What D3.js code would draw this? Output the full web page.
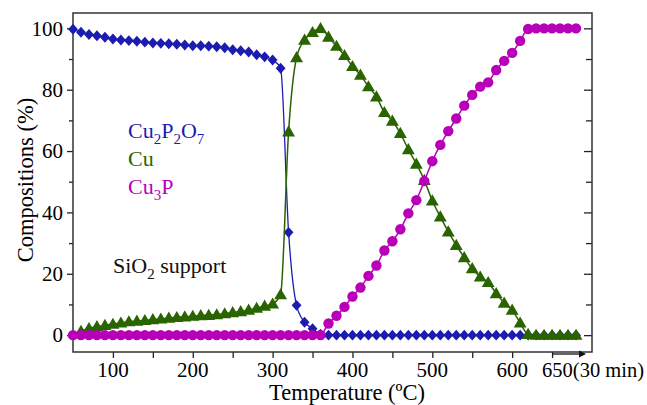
<!DOCTYPE html>
<html>
<head>
<meta charset="utf-8">
<script src="https://cdn.jsdelivr.net/npm/d3@7"></script>
<style>
  body { margin: 0; background: #fff; }
  svg text { font-family: "Liberation Serif", "Times New Roman", serif; }
</style>
</head>
<body>
<div id="chart"></div>
<script>
// temperature (degC), 620-680 is the 30 min hold at 650
var temps = [50, 60, 70, 80, 90, 100, 110, 120, 130, 140,
  150, 160, 170, 180, 190, 200, 210, 220, 230, 240,
  250, 260, 270, 280, 290, 300, 310, 320, 330, 340,
  350, 360, 370, 380, 390, 400, 410, 420, 430, 440,
  450, 460, 470, 480, 490, 500, 510, 520, 530, 540,
  550, 560, 570, 580, 590, 600, 610, 620, 630, 640,
  650, 660, 670, 680];

var cu2p2o7 = [99.7, 98.7, 98.0, 97.6, 97.1, 96.5, 96.2, 96.0, 95.8, 95.5,
  95.2, 95.1, 95.0, 94.8, 94.6, 94.3, 94.3, 94.2, 94.0, 93.7,
  93.0, 92.7, 92.3, 91.4, 90.7, 89.7, 87.0, 33.5, 9.7, 4.2,
  2.1, 0.3, 0, 0, 0, 0, 0, 0, 0, 0,
  0, 0, 0, 0, 0, 0, 0, 0, 0, 0,
  0, 0, 0, 0, 0, 0, 0, 0, 0, 0,
  0, 0, 0, 0];

var cu = [null, 1.3, 2.2, 2.8, 3.2, 3.6, 4.0, 4.4, 4.6, 4.8,
  5.1, 5.3, 5.6, 5.8, 6.0, 6.2, 6.4, 6.5, 6.7, 7.0,
  7.4, 7.7, 8.2, 8.8, 9.5, 10.2, 13.2, 66.3, 90.5, 96.2,
  98.7, 100, 97.2, 94.2, 91.2, 87.6, 84.8, 81.0, 77.7, 72.6,
  69.8, 65.8, 60.5, 55.8, 50.5, 43.8, 38.6, 33.7, 29.3, 25.3,
  21.7, 19.0, 17.2, 13.6, 10.5, 8.2, 4.0, 0.3, 0, 0,
  0, 0, 0, 0];

var cu3p = [0, 0, 0, 0, 0, 0, 0, 0, 0, 0,
  0, 0, 0, 0, 0, 0, 0, 0, 0, 0,
  0, 0, 0, 0, 0, 0, 0, 0, 0, 0,
  0, 0, 3.8, 6.3, 9.2, 12.6, 15.5, 19.3, 22.7, 27.6,
  30.6, 34.5, 39.7, 44.0, 50.2, 56.7, 62.0, 66.5, 70.6, 74.8,
  78.3, 81.0, 82.4, 86.4, 89.4, 92.0, 95.9, 99.8, 100, 100,
  100, 100, 100, 100];

var xTickLabels = [100, 200, 300, 400, 500, 600];
var xTicks = [100, 150, 200, 250, 300, 350, 400, 450, 500, 550, 600, 650];
var yTickLabels = [0, 20, 40, 60, 80, 100];
var yTicks = [0, 10, 20, 30, 40, 50, 60, 70, 80, 90, 100];

var width = 647, height = 405;
var mLeft = 73, mRight = 592, mTop = 13, mBottom = 352;

var svg = d3.select("#chart").append("svg")
  .attr("width", width)
  .attr("height", height);

svg.append("rect").attr("width", width).attr("height", height).attr("fill", "#fff");

var x = d3.scaleLinear().domain([50, 700]).range([mLeft, mRight]);
var y = d3.scaleLinear().domain([-5.5, 105]).range([mBottom, mTop]);

// axes
var xAxis = svg.append("g")
  .attr("transform", "translate(0," + mBottom + ")")
  .call(d3.axisBottom(x).tickValues(xTicks).tickSize(6).tickFormat(""));
xAxis.select(".domain").remove();
xAxis.selectAll("line").attr("stroke", "#222").attr("stroke-width", 1.3);

var yAxis = svg.append("g")
  .attr("transform", "translate(" + mLeft + ",0)")
  .call(d3.axisLeft(y).tickValues(yTicks).tickSize(6).tickFormat(""));
yAxis.select(".domain").remove();
yAxis.selectAll(".tick line")
  .attr("stroke", "#222").attr("stroke-width", 1.3)
  .attr("x2", function(d) { return d % 20 === 0 ? -6 : -4; });

var yRight = svg.append("g")
  .attr("transform", "translate(" + mRight + ",0)")
  .call(d3.axisLeft(y).tickValues(yTicks).tickSize(8).tickFormat(""));
yRight.select(".domain").remove();
yRight.selectAll(".tick line")
  .attr("stroke", "#222").attr("stroke-width", 1.3)
  .attr("x2", function(d) { return d % 20 === 0 ? -8 : -6; });

svg.append("rect")
  .attr("x", mLeft).attr("y", mTop)
  .attr("width", mRight - mLeft).attr("height", mBottom - mTop)
  .attr("fill", "none").attr("stroke", "#333").attr("stroke-width", 1.5);

svg.selectAll(".xlab").data(xTickLabels).enter().append("text")
  .attr("class", "xlab")
  .attr("x", function(d) { return x(d); })
  .attr("y", 377)
  .attr("text-anchor", "middle")
  .attr("font-size", 21)
  .text(function(d) { return d; });

svg.append("text")
  .attr("x", x(650) - 10).attr("y", 377)
  .attr("font-size", 20.5)
  .text("650(30 min)");

// hold arrow
svg.append("line")
  .attr("x1", x(650)).attr("x2", x(685))
  .attr("y1", mBottom + 2).attr("y2", mBottom + 2)
  .attr("stroke", "#111").attr("stroke-width", 1.3);
svg.append("path")
  .attr("d", "M" + (x(685) + 6) + "," + (mBottom + 2) + "l-7,-3.5l0,7z")
  .attr("fill", "#111");

svg.selectAll(".ylab").data(yTickLabels).enter().append("text")
  .attr("class", "ylab")
  .attr("x", 63)
  .attr("y", function(d) { return y(d); })
  .attr("dy", "0.35em")
  .attr("text-anchor", "end")
  .attr("font-size", 21)
  .text(function(d) { return d; });

svg.append("text")
  .attr("x", 347).attr("y", 400)
  .attr("text-anchor", "middle")
  .attr("font-size", 22.5)
  .text("Temperature (ºC)");

svg.append("text")
  .attr("transform", "translate(33,180) rotate(-90)")
  .attr("text-anchor", "middle")
  .attr("font-size", 22.5)
  .text("Compositions (%)");

// series
var series = [
  { name: "Cu2P2O7", values: cu2p2o7, color: "#1c1cb0", width: 1.3, shape: "diamond" },
  { name: "Cu", values: cu, color: "#2a6400", width: 1.5, shape: "triangle" },
  { name: "Cu3P", values: cu3p, color: "#b800b8", width: 1.5, shape: "circle" }
];

var line = d3.line()
  .defined(function(d) { return d[1] != null; })
  .x(function(d) { return x(d[0]); })
  .y(function(d) { return y(d[1]); })
  .curve(d3.curveMonotoneX);

var shapes = {
  diamond: d3.symbol().type(d3.symbolSquare).size(60)(),
  triangle: d3.symbol().type(d3.symbolTriangle).size(72)(),
  circle: d3.symbol().type(d3.symbolCircle).size(85)()
};

series.forEach(function(s) {
  var pts = temps.map(function(t, i) { return [t, s.values[i]]; });
  var g = svg.append("g");
  g.append("path")
    .datum(pts)
    .attr("d", line)
    .attr("fill", "none")
    .attr("stroke", s.color)
    .attr("stroke-width", s.width);
  g.selectAll("path.mark")
    .data(pts.filter(function(d) { return d[1] != null; }))
    .enter().append("path")
    .attr("class", "mark")
    .attr("d", shapes[s.shape])
    .attr("transform", function(d) {
      var t = "translate(" + x(d[0]) + "," + y(d[1]) + ")";
      if (s.shape === "diamond") t += " scale(0.9,1) rotate(45)";
      if (s.shape === "triangle") t += " translate(0,1)";
      return t;
    })
    .attr("fill", s.color);
});

// labels with subscripts
function subLabel(xp, yp, parts, color) {
  var t = svg.append("text")
    .attr("x", xp).attr("y", yp)
    .attr("font-size", 22)
    .attr("fill", color);
  var shift = 0;
  parts.forEach(function(p) {
    var want = p.sub ? 6 : 0;
    var ts = t.append("tspan").attr("dy", want - shift).text(p.t);
    if (p.sub) ts.attr("font-size", 15);
    shift = want;
  });
}

subLabel(128, 138, [{t: "Cu"}, {t: "2", sub: true}, {t: "P"}, {t: "2", sub: true}, {t: "O"}, {t: "7", sub: true}], "#1c1cb0");
subLabel(128, 166, [{t: "Cu"}], "#2a6400");
subLabel(128, 194, [{t: "Cu"}, {t: "3", sub: true}, {t: "P"}], "#b800b8");
subLabel(113, 273, [{t: "SiO"}, {t: "2", sub: true}, {t: " support"}], "#111");
</script>
</body>
</html>
